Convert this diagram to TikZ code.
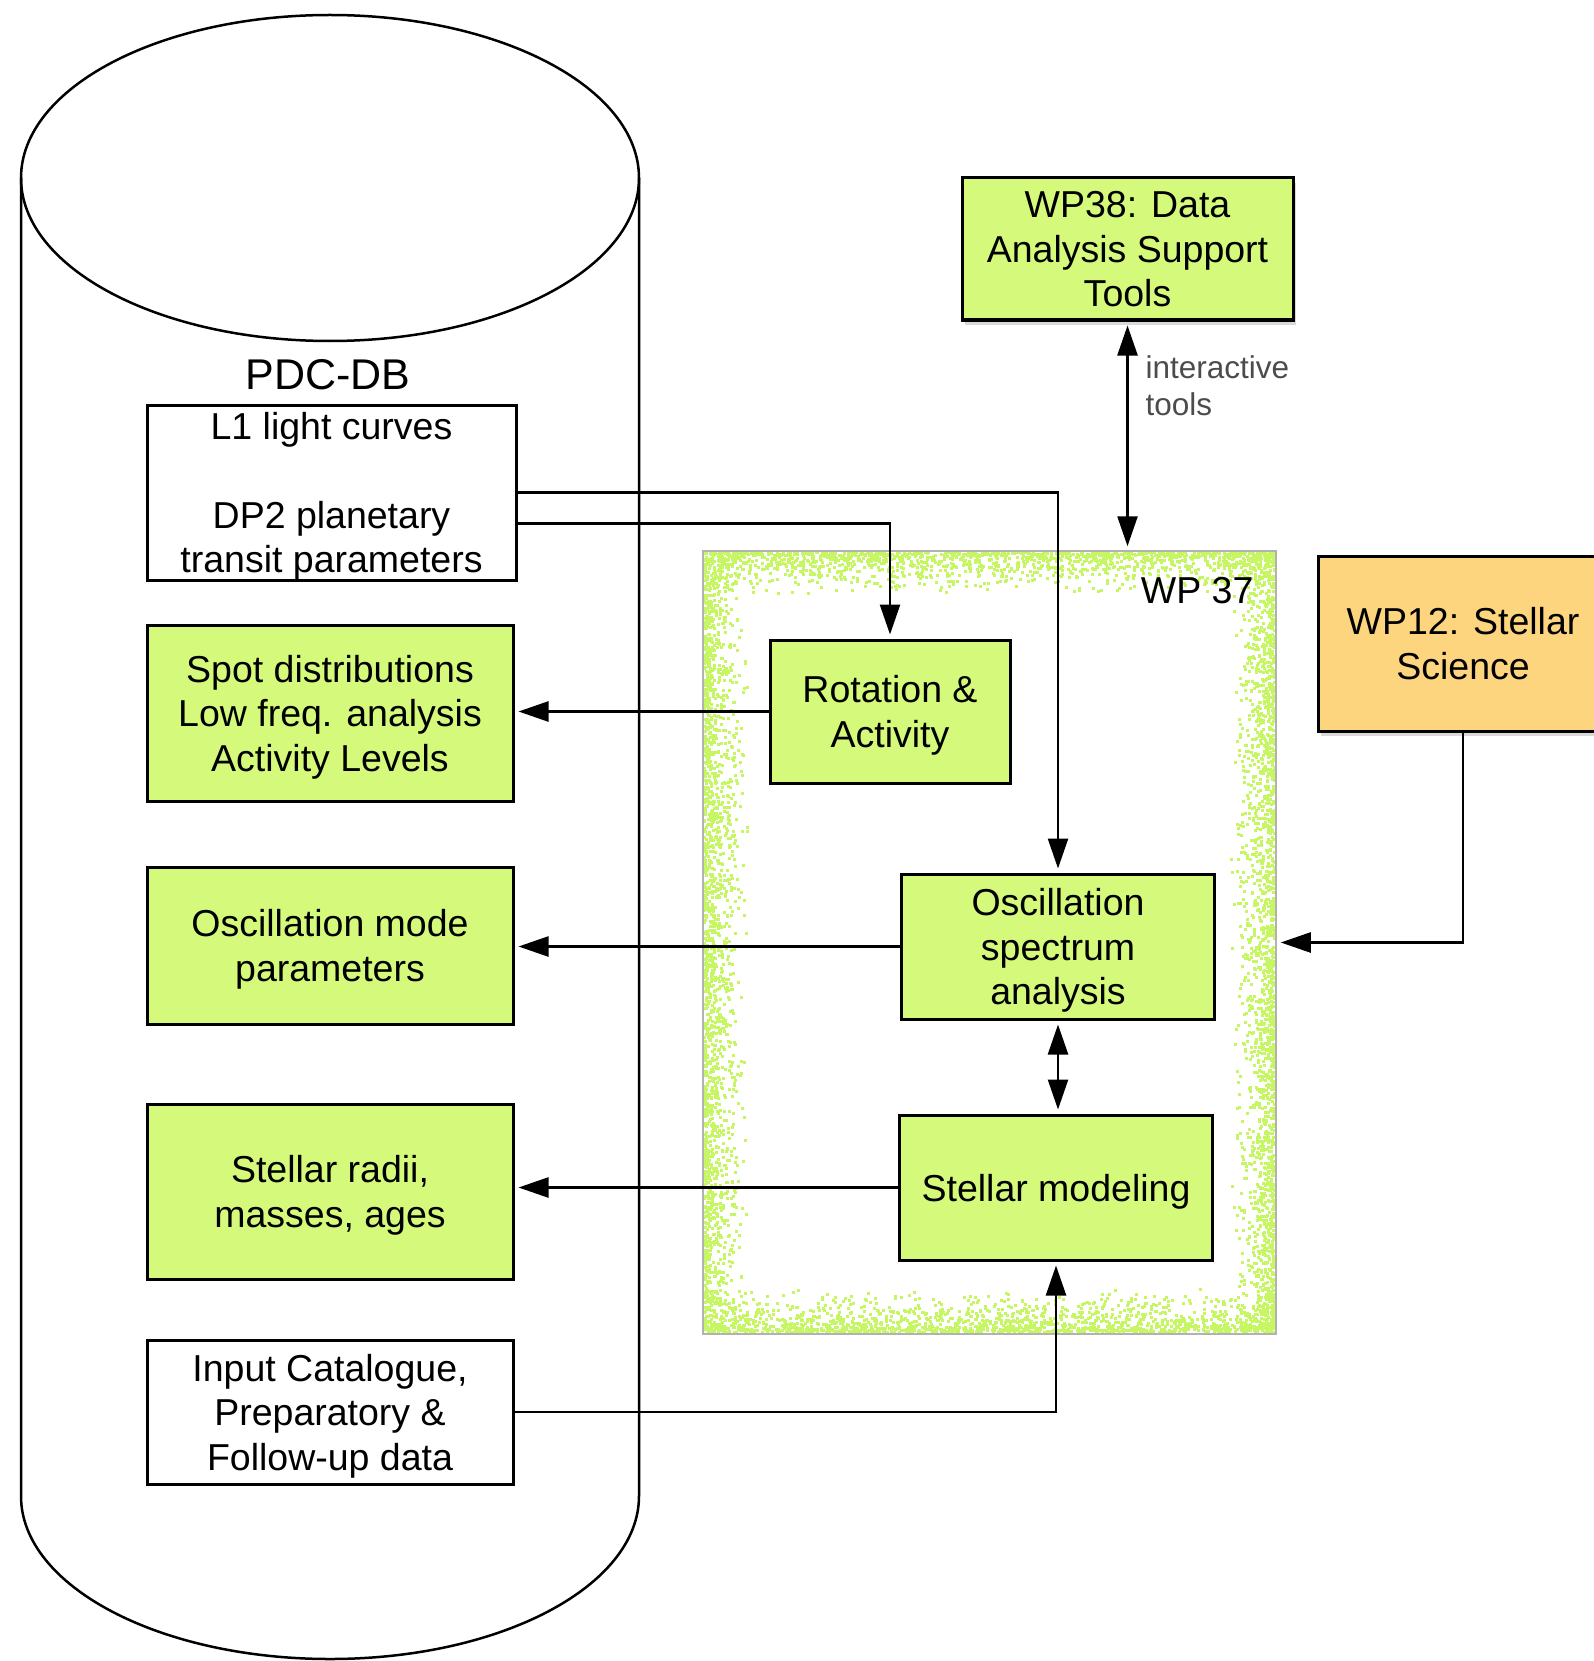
\documentclass[tikz,border=0pt]{standalone}
\usepackage{fontspec}
\setmainfont{Liberation Sans}
\usetikzlibrary{arrows.meta,shadows}
\definecolor{wpgreen}{RGB}{213,250,123}
\definecolor{wpspeck}{RGB}{198,246,100}
\definecolor{wporange}{RGB}{253,213,126}

\begin{document}
\begin{tikzpicture}[x=1pt,y=-1pt,
  box/.style={draw,line width=3pt,inner sep=0pt,align=center,text depth=0pt,
    font=\fontsize{37.5}{44.5}\selectfont},
  greenbox/.style={box,fill=wpgreen},
  whitebox/.style={box,fill=white},
  shadebox/.style={drop shadow={shadow xshift=3pt,shadow yshift=-5pt,opacity=0.3}},
  arr/.style={line width=2.5pt,shorten >=4pt,-{Triangle[length=30pt,width=20pt]}},
  darr/.style={arr,shorten <=4pt,{Triangle[length=30pt,width=20pt]}-{Triangle[length=30pt,width=20pt]}}]
  \useasboundingbox (0,0) rectangle (1594,1661);
  \clip (0,0) rectangle (1594,1661);

  % the data base
  \draw[line width=2.5pt] (330,178) ellipse [x radius=309,y radius=163];
  \draw[line width=2.5pt] (21,178) -- (21,1496)
    arc[start angle=180,end angle=0,x radius=309,y radius=163] -- (639,178);
  \node[font=\fontsize{43}{50}\selectfont] (pdclabel) at (328,375) {PDC-DB};

  % speckled border of WP 37
  \pgfmathsetseed{37}
  \foreach \i in {1,...,1500}{
    \pgfmathsetmacro\px{703+570*rnd}
    \pgfmathsetmacro\py{551+44*rnd*rnd}
    \fill[wpspeck] (\px,\py) rectangle ++(3,3);
    \pgfmathsetmacro\px{703+570*rnd}
    \pgfmathsetmacro\py{1331-44*rnd*rnd}
    \fill[wpspeck] (\px,\py) rectangle ++(3,3);
  }
  \foreach \i in {1,...,2000}{
    \pgfmathsetmacro\px{703+44*rnd*rnd}
    \pgfmathsetmacro\py{551+780*rnd}
    \fill[wpspeck] (\px,\py) rectangle ++(3,3);
    \pgfmathsetmacro\px{1273-44*rnd*rnd}
    \pgfmathsetmacro\py{551+780*rnd}
    \fill[wpspeck] (\px,\py) rectangle ++(3,3);
  }
  \node[draw=black!30,line width=1.5pt,inner sep=0pt,
    minimum width=573pt,minimum height=783pt] (wp37) at (989.5,942.5) {};
  \node[anchor=east,font=\fontsize{37.5}{44.5}\selectfont] (wp37lbl) at (1257,591) {WP 37};

  % boxes in the data base
  \node[whitebox,minimum width=369pt,minimum height=175pt] (l1) at (331.5,492.5)
    {L1 light curves\\[44.5pt]DP2 planetary\\transit parameters};
  \node[greenbox,minimum width=366pt,minimum height=176pt] (spot) at (330,713)
    {Spot distributions\\Low freq. analysis\\Activity Levels};
  \node[greenbox,minimum width=366pt,minimum height=157pt] (modes) at (330,945.5)
    {Oscillation mode\\parameters};
  \node[greenbox,minimum width=366pt,minimum height=175pt] (radii) at (330,1191.5)
    {Stellar radii,\\masses, ages};
  \node[whitebox,minimum width=366pt,minimum height=144pt] (input) at (330,1412)
    {Input Catalogue,\\Preparatory \&\\Follow-up data};

  % work packages
  \node[greenbox,shadebox,minimum width=331pt,minimum height=142pt] (wp38) at (1127.5,249)
    {WP38: Data\\Analysis Support\\Tools};
  \node[greenbox,minimum width=240pt,minimum height=143pt] (rot) at (890,711.5)
    {Rotation \&\\Activity};
  \node[greenbox,minimum width=313pt,minimum height=145pt] (osc) at (1058,946.5)
    {Oscillation\\spectrum\\analysis};
  \node[greenbox,minimum width=313pt,minimum height=145pt] (model) at (1056,1187.5)
    {Stellar modeling};
  \node[box,fill=wporange,shadebox,minimum width=290pt,minimum height=175pt] (wp12) at (1463,643.5)
    {WP12: Stellar\\Science};

  % connectors
  \draw[arr] (l1.east) -| (osc.north);
  \draw[arr] ([yshift=-31pt]l1.east) -| (rot.north);
  \draw[arr] (rot.west) -- (rot.west -| spot.east);
  \draw[arr] (osc.west) -- (osc.west -| modes.east);
  \draw[darr] (osc.south) -- (osc.south |- model.north);
  \draw[arr] (model.west) -- (model.west -| radii.east);
  \draw[arr] (input.east) -| (model.south);
  \draw[darr] (wp38.south) -- (wp38.south |- wp37.north);
  \node[anchor=west,align=left,text=black!70,font=\fontsize{31.5}{37}\selectfont]
    (itools) at (1142,386) {interactive\\tools};
  \draw[arr] (wp12.south) |- (wp37.east);
\end{tikzpicture}
\end{document}
